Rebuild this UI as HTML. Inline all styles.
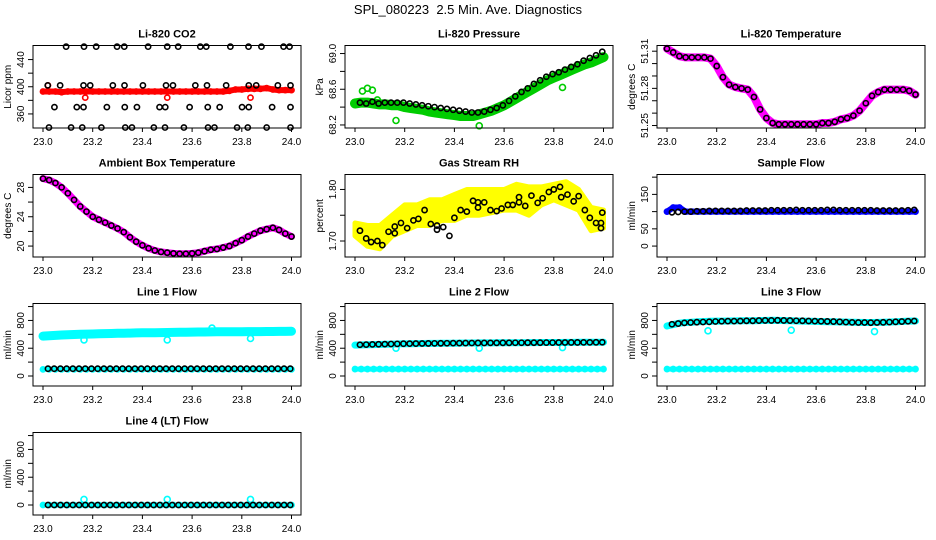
<!DOCTYPE html>
<html><head><meta charset="utf-8"><style>
html,body{margin:0;padding:0;background:#fff;}
svg{display:block;font-family:"Liberation Sans",Arial,sans-serif;}
</style></head><body>
<svg id="chart" width="936" height="540" viewBox="0 0 936 540" xmlns="http://www.w3.org/2000/svg">
<rect width="936" height="540" fill="#fff"/>
<text x="468" y="14" text-anchor="middle" font-size="13" style="white-space:pre">SPL_080223  2.5 Min. Ave. Diagnostics</text>
</svg>
<script>
const xTicks=[23.0,23.2,23.4,23.6,23.8,24.0];
const xTickLabels=["23.0","23.2","23.4","23.6","23.8","24.0"];
// CO2
const co2Red=[393,393,393,392,393,393,393,393,393,393,393,393,393,393,393,393,393,393,393,393,393,393,393,393,393,393,393,393,393,393,394,396,396,397,397,397,398,396,395,395,395];
const co2RedOutT=[23.02,23.17,23.5,23.835];
const co2RedOutV=[402,384,384,384];
const co2BlkT=[23.093,23.165,23.214,23.298,23.327,23.423,23.5,23.544,23.633,23.657,23.754,23.827,23.879,23.968,23.992,
23.019,23.069,23.163,23.19,23.281,23.328,23.402,23.495,23.523,23.613,23.66,23.737,23.828,23.858,23.945,23.996,
23.046,23.136,23.163,23.257,23.329,23.378,23.469,23.492,23.59,23.663,23.711,23.801,23.828,23.922,23.996,
23.024,23.113,23.158,23.235,23.331,23.358,23.446,23.491,23.567,23.664,23.69,23.781,23.824,23.9,23.996];
const co2BlkV=[459,459,459,459,459,459,459,459,459,459,459,459,459,459,459,
402,402,402,402,402,402,402,402,402,402,402,402,402,402,402,402,
370,370,370,370,370,370,370,370,370,370,370,370,370,370,370,
340,340,340,340,340,340,340,340,340,340,340,340,340,340,340];
// Pressure
const presGreen=[68.44,68.45,68.45,68.44,68.43,68.43,68.42,68.42,68.40,68.39,68.38,68.37,68.35,68.34,68.33,68.32,68.31,68.30,68.30,68.30,68.32,68.34,68.36,68.39,68.42,68.46,68.50,68.54,68.58,68.62,68.66,68.70,68.73,68.76,68.79,68.82,68.85,68.88,68.90,68.93,68.96];
const presGreenOutT=[23.03,23.05,23.07,23.09,23.165,23.5,23.835];
const presGreenOutV=[68.58,68.61,68.59,68.48,68.25,68.19,68.62];
const presBlack=[68.45,68.44,68.46,68.44,68.45,68.45,68.45,68.45,68.44,68.43,68.42,68.41,68.40,68.39,68.38,68.37,68.36,68.35,68.34,68.34,68.35,68.37,68.39,68.42,68.47,68.52,68.57,68.61,68.66,68.70,68.74,68.77,68.79,68.82,68.85,68.88,68.92,68.95,68.98,69.02];
// Li-820 temperature
const tempVals=[51.312,51.309,51.306,51.305,51.305,51.305,51.305,51.304,51.298,51.289,51.283,51.281,51.280,51.279,51.273,51.263,51.256,51.252,51.251,51.251,51.251,51.251,51.251,51.251,51.251,51.252,51.252,51.253,51.255,51.256,51.258,51.262,51.268,51.274,51.277,51.279,51.279,51.279,51.279,51.278,51.275];
// Ambient
const ambVals=[29.2,29.0,28.6,28.0,27.2,26.3,25.4,24.7,24.0,23.6,23.2,22.8,22.4,21.9,21.2,20.6,20.1,19.7,19.4,19.2,19.1,19.0,18.95,18.95,19.0,19.1,19.3,19.5,19.6,19.8,20.0,20.4,20.8,21.3,21.7,22.1,22.3,22.5,22.2,21.7,21.3];
// RH
const rhHi=[1.735,1.73,1.73,1.75,1.77,1.77,1.78,1.78,1.79,1.80,1.80,1.80,1.80,1.81,1.805,1.805,1.81,1.815,1.80,1.765,1.76];
const rhLo=[1.71,1.69,1.685,1.71,1.72,1.73,1.73,1.74,1.74,1.75,1.75,1.755,1.76,1.76,1.75,1.77,1.78,1.77,1.76,1.72,1.725];
const rhBlkT=[23.02,23.045,23.065,23.09,23.11,23.135,23.16,23.16,23.185,23.21,23.235,23.255,23.28,23.305,23.33,23.33,23.355,23.38,23.4,23.425,23.45,23.475,23.495,23.495,23.52,23.545,23.57,23.59,23.615,23.635,23.66,23.66,23.685,23.71,23.735,23.755,23.78,23.8,23.825,23.83,23.855,23.88,23.9,23.925,23.945,23.97,23.99,23.99,23.995];
const rhBlkV=[1.72,1.705,1.698,1.70,1.692,1.718,1.728,1.715,1.735,1.725,1.74,1.743,1.76,1.733,1.73,1.722,1.727,1.71,1.745,1.76,1.757,1.778,1.775,1.765,1.775,1.76,1.758,1.763,1.77,1.77,1.785,1.775,1.768,1.788,1.774,1.783,1.795,1.80,1.805,1.785,1.79,1.777,1.787,1.76,1.745,1.735,1.735,1.725,1.755];
// Sample flow
const sfBlue=[100,112,112,100,100,100,100,100,100,100,100,100,100,100,100,100,100,100,100,100,100,100,100,100,100,100,100,100,100,100,100,100,100,100,100,100,100,100,100,100,100];
const sfBlack=[98,99,100,100,101,101,102,102,102,102,102,102,103,103,103,103,104,104,104,104,105,104,104,104,104,105,105,104,104,104,104,104,104,103,103,103,103,103,104,105];
// Line flows
const l1Hi=[575,580,585,590,595,598,600,603,605,607,610,612,615,617,618,620,622,623,624,625,627,628,629,630,632,633,634,635,636,636,637,638,638,639,640,640,641,641,642,642,643];
const l1Lo=[95,95,95,95,95,95,95,95,95,95,95,95,95,95,95,95,95,95,95,95,95,95,95,95,95,95,95,95,95,95,95,95,95,95,95,95,95,95,95,95,95];
const l1Black=[105,105,105,105,105,105,105,105,105,105,105,105,105,105,105,105,105,105,105,105,105,105,105,105,105,105,105,105,105,105,105,105,105,105,105,105,105,105,105,105];
const l1OutT=[23.165,23.5,23.835,23.68];
const l1OutV=[520,520,540,690];
const l2Hi=[445,448,450,452,455,457,460,462,463,465,466,468,469,470,471,472,473,474,475,475,476,477,477,478,478,479,480,480,481,481,482,482,483,483,484,484,485,485,486,486,487];
const l2Lo=[100,100,100,100,100,100,100,100,100,100,100,100,100,100,100,100,100,100,100,100,100,100,100,100,100,100,100,100,100,100,100,100,100,100,100,100,100,100,100,100,100];
const l2Black=[450,452,455,457,459,461,463,465,466,467,468,469,470,471,472,473,473,474,475,476,476,477,477,478,478,479,479,480,480,480,481,481,482,482,483,483,484,484,485,486];
const l2OutT=[23.165,23.5,23.835];
const l2OutV=[400,400,410];
const l3Hi=[720,740,760,770,775,780,785,788,790,790,792,794,795,796,797,798,800,802,800,798,795,792,790,788,786,784,782,780,778,776,774,772,770,770,772,775,778,782,786,790,792];
const l3Lo=[100,100,100,100,100,100,100,100,100,100,100,100,100,100,100,100,100,100,100,100,100,100,100,100,100,100,100,100,100,100,100,100,100,100,100,100,100,100,100,100,100];
const l3Black=[745,755,765,770,775,778,780,785,788,790,790,792,795,795,798,800,800,802,800,798,796,795,792,790,788,786,784,780,776,772,770,770,768,770,773,776,780,784,788,792];
const l3OutT=[23.165,23.5,23.835];
const l3OutV=[650,660,640];
const l4Cyan=[0,0,0,0,0,0,0,0,0,0,0,0,0,0,0,0,0,0,0,0,0,0,0,0,0,0,0,0,0,0,0,0,0,0,0,0,0,0,0,0,0];
const l4Black=[0,0,0,0,0,0,0,0,0,0,0,0,0,0,0,0,0,0,0,0,0,0,0,0,0,0,0,0,0,0,0,0,0,0,0,0,0,0,0,0];
const l4OutT=[23.165,23.5,23.835];
const l4OutV=[80,80,80];

const lineTicks=[0,200,400,600,800,1000];
const lineTickLabels=["0","","400","","800",""];

const NS="http://www.w3.org/2000/svg";
const svg=document.getElementById('chart');
function mk(tag,attrs,parent){const e=document.createElementNS(NS,tag);for(const k in attrs)e.setAttribute(k,attrs[k]);parent.appendChild(e);return e;}
function seqT(n,start,step){const a=[];for(let i=0;i<n;i++)a.push(start+i*step);return a;}

function panel(cfg){
  const g=mk('g',{},svg);
  
  
  const L=33+312*cfg.col, W=268, T=45.5+129*cfg.row, H=82.5;
  const sx=t=>L+10+(t-23)*248.5;
  const sy=v=>T+H-(v-cfg.ymin)/(cfg.ymax-cfg.ymin)*H;
  const plot=mk('g',{},g);
  
  
  for(const s of cfg.series){
    const sg=mk('g',{},plot);
    
    
    if(s.kind==='band'){
      const ts=seqT(s.v.length,23,1/(s.v.length-1));
      const pts=s.v.map((v,i)=>sx(ts[i]).toFixed(1)+','+sy(v).toFixed(1)).join(' ');
      mk('polyline',{points:pts,fill:'none',stroke:s.color,'stroke-width':s.w,'stroke-linecap':'round','stroke-linejoin':'round'},sg);
      s.v.forEach((v,i)=>{const c=mk('circle',{cx:sx(ts[i]),cy:sy(v),r:2.6,fill:'none',stroke:s.color,'stroke-width':1.6},sg);
        
        });
    } else if(s.kind==='env'){
      const ts=seqT(s.hi.length,23,1/(s.hi.length-1));
      const up=s.hi.map((v,i)=>sx(ts[i]).toFixed(1)+','+sy(v).toFixed(1));
      const dn=s.lo.map((v,i)=>sx(ts[i]).toFixed(1)+','+sy(v).toFixed(1)).reverse();
      mk('polygon',{points:up.concat(dn).join(' '),fill:s.color,stroke:s.color,'stroke-width':5,'stroke-linejoin':'round'},sg);
    } else {
      const ts=s.t||seqT(s.v.length,23.02,0.025);
      s.v.forEach((v,i)=>{const c=mk('circle',{cx:sx(ts[i]),cy:sy(v),r:s.r||2.6,fill:'none',stroke:s.color,'stroke-width':1.6},sg);
        
        });
    }
  }
  const box=mk('rect',{x:L,y:T,width:W,height:H,fill:'none',stroke:'#000','stroke-width':1},g);
  
  
  const xa=mk('g',{},g);
  
  
  xTicks.forEach((t,i)=>{
    mk('line',{x1:sx(t),x2:sx(t),y1:T+H,y2:T+H+4,stroke:'#000'},xa);
    const tx=mk('text',{x:sx(t),y:T+H+17,'text-anchor':'middle','font-size':10},xa);
    tx.textContent=xTickLabels[i];
    
    
  });
  const ya=mk('g',{},g);
  
  
  cfg.ticks.forEach((v,i)=>{
    const y=sy(v);
    mk('line',{x1:L-5,x2:L,y1:y,y2:y,stroke:'#000'},ya);
    if(cfg.labels[i]){
      const tx=mk('text',{x:L-9,y:y,'text-anchor':'middle','font-size':10,transform:'rotate(-90 '+(L-9)+' '+y+')'},ya);
      tx.textContent=cfg.labels[i];
      
      
    }
  });
  const yl=mk('text',{x:L-22,y:T+H/2,'text-anchor':'middle','font-size':10,transform:'rotate(-90 '+(L-22)+' '+(T+H/2)+')'},g);
  yl.textContent=cfg.ylab;
  
  
  const ti=mk('text',{x:L+W/2,y:T-8,'text-anchor':'middle','font-size':11,'font-weight':'bold'},g);
  ti.textContent=cfg.title;
  
  
}

const tAll=seqT(41,23,0.025);
panel({name:'co2',col:0,row:0,title:'Li-820 CO2',ylab:'Licor ppm',ymin:339.3,ymax:460.7,ticks:[360,380,400,420,440],labels:['360','','400','','440'],
 series:[{name:'co2-red-series',kind:'band',color:'#ff0000',w:6,v:co2Red},
  {name:'co2-red-outliers',kind:'pts',color:'#ff0000',t:co2RedOutT,v:co2RedOutV},
  {name:'co2-black-series',kind:'pts',color:'#000',t:co2BlkT,v:co2BlkV}]});
panel({name:'pressure',col:1,row:0,title:'Li-820 Pressure',ylab:'kPa',ymin:68.166,ymax:69.09,ticks:[68.2,68.4,68.6,68.8,69.0],labels:['68.2','','68.6','','69.0'],
 series:[{name:'pressure-green-series',kind:'band',color:'#00cc00',w:10,v:presGreen},
  {name:'pressure-green-outliers',kind:'pts',color:'#00cc00',r:3,t:presGreenOutT,v:presGreenOutV},
  {name:'pressure-black-series',kind:'pts',color:'#000',v:presBlack}]});
panel({name:'li820-temp',col:2,row:0,title:'Li-820 Temperature',ylab:'degrees C',ymin:51.248,ymax:51.3146,ticks:[51.25,51.26,51.27,51.28,51.29,51.30,51.31],labels:['51.25','','','51.28','','','51.31'],
 series:[{name:'li820-temp-magenta-series',kind:'band',color:'#ff00ff',w:8,v:tempVals},
  {name:'li820-temp-black-series',kind:'pts',color:'#000',t:tAll,v:tempVals}]});
panel({name:'ambient',col:0,row:1,title:'Ambient Box Temperature',ylab:'degrees C',ymin:18.51,ymax:29.76,ticks:[20,22,24,26,28],labels:['20','','24','','28'],
 series:[{name:'ambient-magenta-series',kind:'band',color:'#ff00ff',w:7,v:ambVals},
  {name:'ambient-black-series',kind:'pts',color:'#000',t:tAll,v:ambVals}]});
panel({name:'rh',col:1,row:1,title:'Gas Stream RH',ylab:'percent',ymin:1.669,ymax:1.829,ticks:[1.70,1.75,1.80],labels:['1.70','','1.80'],
 series:[{name:'rh-yellow-series',kind:'env',color:'#ffff00',hi:rhHi,lo:rhLo},
  {name:'rh-black-series',kind:'pts',color:'#000',t:rhBlkT,v:rhBlkV}]});
panel({name:'sample-flow',col:2,row:1,title:'Sample Flow',ylab:'ml/min',ymin:-31.7,ymax:207.7,ticks:[0,50,100,150,200],labels:['0','50','','150',''],
 series:[{name:'sample-flow-blue-series',kind:'band',color:'#0000ff',w:6,v:sfBlue},
  {name:'sample-flow-black-series',kind:'pts',color:'#000',v:sfBlack}]});
panel({name:'line1',col:0,row:2,title:'Line 1 Flow',ylab:'ml/min',ymin:-144,ymax:1044,ticks:lineTicks,labels:lineTickLabels,
 series:[{name:'line1-cyan-upper',kind:'band',color:'#00ffff',w:9,v:l1Hi},
  {name:'line1-cyan-lower',kind:'band',color:'#00ffff',w:4,v:l1Lo},
  {name:'line1-cyan-outliers',kind:'pts',color:'#00ffff',r:3,t:l1OutT,v:l1OutV},
  {name:'line1-black-series',kind:'pts',color:'#000',v:l1Black}]});
panel({name:'line2',col:1,row:2,title:'Line 2 Flow',ylab:'ml/min',ymin:-144,ymax:1044,ticks:lineTicks,labels:lineTickLabels,
 series:[{name:'line2-cyan-upper',kind:'band',color:'#00ffff',w:7,v:l2Hi},
  {name:'line2-cyan-lower',kind:'band',color:'#00ffff',w:5,v:l2Lo},
  {name:'line2-cyan-outliers',kind:'pts',color:'#00ffff',r:3,t:l2OutT,v:l2OutV},
  {name:'line2-black-series',kind:'pts',color:'#000',v:l2Black}]});
panel({name:'line3',col:2,row:2,title:'Line 3 Flow',ylab:'ml/min',ymin:-144,ymax:1044,ticks:lineTicks,labels:lineTickLabels,
 series:[{name:'line3-cyan-upper',kind:'band',color:'#00ffff',w:7,v:l3Hi},
  {name:'line3-cyan-lower',kind:'band',color:'#00ffff',w:5,v:l3Lo},
  {name:'line3-cyan-outliers',kind:'pts',color:'#00ffff',r:3,t:l3OutT,v:l3OutV},
  {name:'line3-black-series',kind:'pts',color:'#000',v:l3Black}]});
panel({name:'line4',col:0,row:3,title:'Line 4 (LT) Flow',ylab:'ml/min',ymin:-144,ymax:1044,ticks:lineTicks,labels:lineTickLabels,
 series:[{name:'line4-cyan-series',kind:'band',color:'#00ffff',w:4,v:l4Cyan},
  {name:'line4-cyan-outliers',kind:'pts',color:'#00ffff',r:3,t:l4OutT,v:l4OutV},
  {name:'line4-black-series',kind:'pts',color:'#000',v:l4Black}]});
</script>
</body></html>
